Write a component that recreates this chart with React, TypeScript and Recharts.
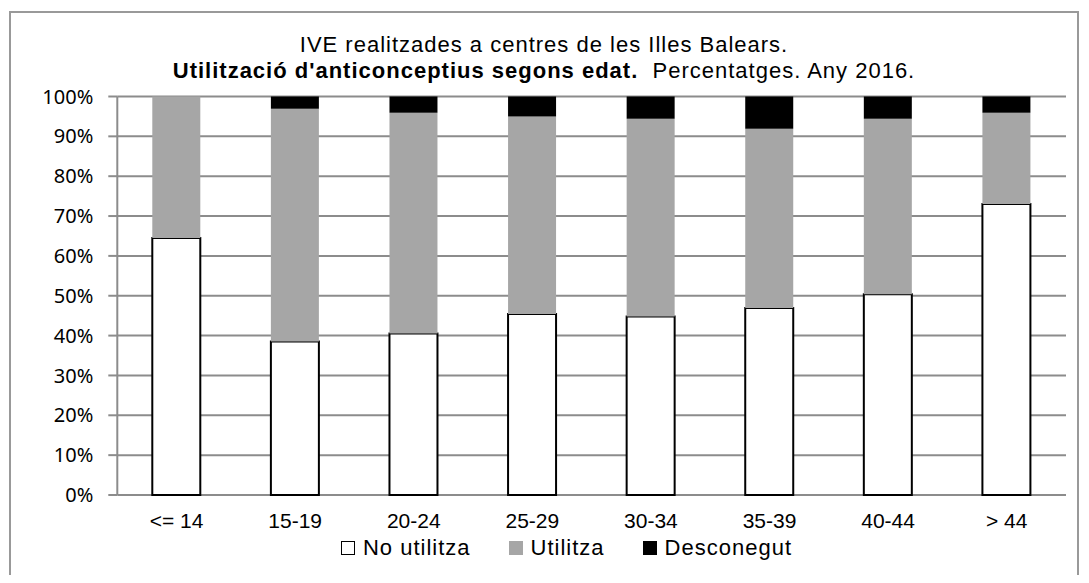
import React from 'react';
import { BarChart, Bar, XAxis, YAxis, CartesianGrid, Legend } from 'recharts';

const categories = ['<= 14', '15-19', '20-24', '25-29', '30-34', '35-39', '40-44', '> 44'];
const noUtilitza = [64.5, 38.5, 40.5, 45.4, 44.8, 46.9, 50.4, 73.0];
const utilitza = [35.5, 58.4, 55.4, 49.6, 49.6, 45.0, 44.0, 22.9];
const desconegut = [0, 3.1, 4.1, 5.0, 5.6, 8.1, 5.6, 4.1];
const seriesNames = ['No utilitza', 'Utilitza', 'Desconegut'];
const yTicks = [0, 10, 20, 30, 40, 50, 60, 70, 80, 90, 100];
const boundaryTicks = [0, 1, 2, 3, 4, 5, 6, 7, 8];

const data = categories.map((cat, i) => ({
  cat,
  pos: i + 0.5,
  noUtilitza: noUtilitza[i],
  utilitza: utilitza[i],
  desconegut: desconegut[i],
}));

const AXIS_GRAY = '#8c8c8c';
const FONT = '"Liberation Sans", Arial, sans-serif';

const renderLegend = (props: any) => {
  const payload = [...(props.payload || [])].sort(
    (a: any, b: any) => seriesNames.indexOf(a.value) - seriesNames.indexOf(b.value)
  );
  return (
    <div
      style={{
        width: 1081,
        height: 24,
        display: 'flex',
        justifyContent: 'center',
        alignItems: 'center',
        paddingLeft: 36,
        boxSizing: 'border-box',
        fontFamily: FONT,
        fontSize: 22,
        letterSpacing: 1,
        color: '#000',
      }}
    >
      {payload.map((entry: any, i: number) => {
        const isWhite = entry.color === '#ffffff';
        return (
          <div key={i} style={{ display: 'flex', alignItems: 'center', marginRight: i < payload.length - 1 ? 38 : 0 }}>
            <span
              style={{
                display: 'inline-block',
                width: 14,
                height: 14,
                boxSizing: 'border-box',
                background: entry.color,
                border: isWhite ? '1.5px solid #000' : 'none',
                marginRight: 8,
              }}
            />
            <span style={{ lineHeight: '24px' }}>{entry.value}</span>
          </div>
        );
      })}
    </div>
  );
};

export default function App() {
  return (
    <div style={{ position: 'relative', width: 1081, height: 575, marginBottom: -8, overflow: 'hidden', background: '#fff' }}>
      <div
        style={{
          position: 'absolute',
          left: 1,
          top: 3,
          width: 1070,
          height: 700,
          boxSizing: 'border-box',
          border: '2px solid #999',
        }}
      />
      <div style={{ position: 'absolute', left: 0, top: 0 }}>
        <BarChart
          width={1081}
          height={567}
          data={data}
          margin={{ top: 88.5, right: 23, left: 0, bottom: 15 }}
        >
          <CartesianGrid vertical={false} stroke={AXIS_GRAY} strokeWidth={2} xAxisId="cat" />
          <XAxis
            xAxisId="grid"
            type="number"
            dataKey="pos"
            domain={[0, 8]}
            ticks={boundaryTicks}
            allowDataOverflow
            height={0}
            tick={false}
            tickSize={6}
            axisLine={{ stroke: AXIS_GRAY, strokeWidth: 2 }}
            tickLine={{ stroke: AXIS_GRAY, strokeWidth: 2 }}
          />
          <XAxis
            xAxisId="cat"
            dataKey="cat"
            height={41}
            tickLine={false}
            axisLine={false}
            tickSize={0}
            tickMargin={18}
            interval={0}
            tick={{ fill: '#000', fontSize: 21, fontFamily: FONT }}
          />
          <YAxis
            domain={[0, 100]}
            ticks={yTicks}
            interval={0}
            width={109.3}
            tickFormatter={(v: number) => `${v}%`}
            tickSize={9}
            tickMargin={15}
            axisLine={{ stroke: AXIS_GRAY, strokeWidth: 2 }}
            tickLine={{ stroke: AXIS_GRAY, strokeWidth: 2 }}
            tick={{ fill: '#000', fontSize: 20, fontFamily: '"Noto Sans", sans-serif' }}
          />
          <Legend verticalAlign="bottom" content={renderLegend} />
          <Bar xAxisId="cat" dataKey="noUtilitza" name="No utilitza" stackId="a" fill="#ffffff" stroke="#000" strokeWidth={2} barSize={48} isAnimationActive={false} />
          <Bar xAxisId="cat" dataKey="utilitza" name="Utilitza" stackId="a" fill="#a6a6a6" barSize={48} isAnimationActive={false} />
          <Bar xAxisId="cat" dataKey="desconegut" name="Desconegut" stackId="a" fill="#000000" barSize={48} isAnimationActive={false} />
        </BarChart>
      </div>
      <div
        style={{
          position: 'absolute',
          left: 0,
          top: 23.7,
          width: 1072,
          textAlign: 'center',
          fontFamily: FONT,
          fontSize: 22,
          letterSpacing: 1,
          lineHeight: '26px',
          color: '#000',
          pointerEvents: 'none',
        }}
      >
        <div>IVE realitzades a centres de les Illes Balears.</div>
        <div>
          <b>Utilització d'anticonceptius segons edat.</b>
          {'\u00a0 Percentatges. Any 2016.'}
        </div>
      </div>
    </div>
  );
}
